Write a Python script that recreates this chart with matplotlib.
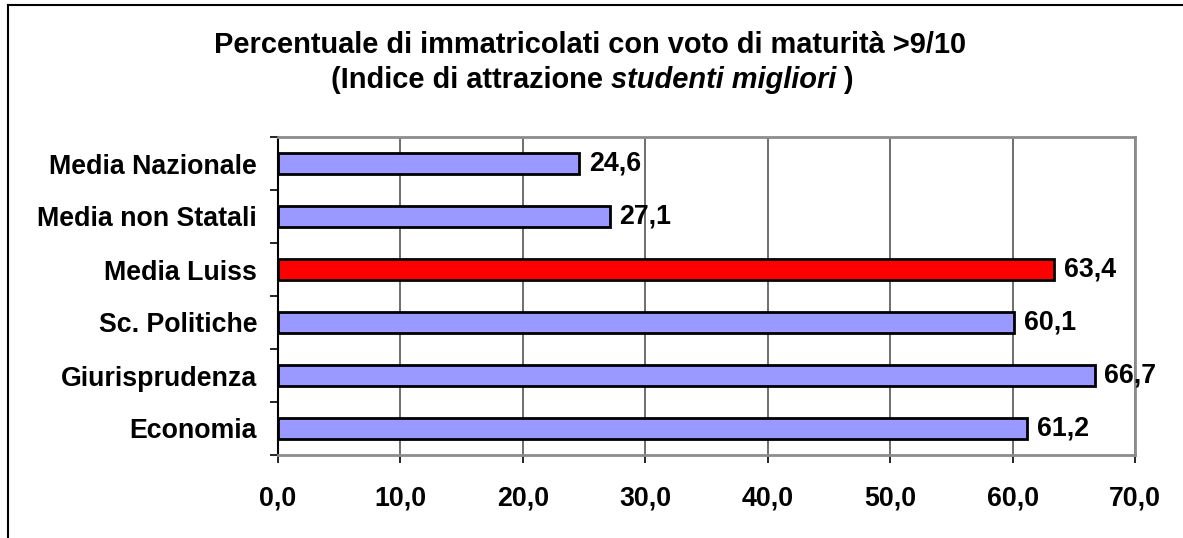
import matplotlib
matplotlib.use("Agg")
import matplotlib.pyplot as plt
from matplotlib.lines import Line2D

plt.rcParams['font.family'] = ['Liberation Sans', 'DejaVu Sans']

categories = ["Media Nazionale", "Media non Statali", "Media Luiss",
              "Sc. Politiche", "Giurisprudenza", "Economia"]
values = [24.6, 27.1, 63.4, 60.1, 66.7, 61.2]
bar_colors = ["#9999ff", "#9999ff", "#ff0000", "#9999ff", "#9999ff", "#9999ff"]
xticks = [0, 10, 20, 30, 40, 50, 60, 70]
xtick_labels = ["0,0", "10,0", "20,0", "30,0", "40,0", "50,0", "60,0", "70,0"]
title_line1 = "Percentuale di immatricolati con voto di maturità >9/10"
title_line2 = ["(Indice di attrazione ", "studenti migliori", " )"]

FS = 19.3
TFS = 20.9

W, H = 1183, 538
fig = plt.figure(figsize=(W / 100, H / 100), dpi=100)
ax = fig.add_axes([278 / W, 1 - 455 / H, (1135 - 278) / W, (455 - 137) / H])

n = len(categories)
ypos = list(range(n))[::-1]
ax.barh(ypos, values, height=0.4, color=bar_colors, edgecolor="black",
        linewidth=2, zorder=3)
for y, v in zip(ypos, values):
    ax.text(v + 0.8, y, f"{v:.1f}".replace(".", ","), va="center", ha="left",
            fontsize=FS, fontweight="bold", zorder=4)

ax.set_xlim(0, 70)
ax.set_ylim(-0.5, n - 0.5)
ax.set_xticks(xticks)
ax.set_xticklabels(xtick_labels, fontsize=FS, fontweight="bold")
ax.set_yticks(ypos)
ax.set_yticklabels(categories, fontsize=FS, fontweight="bold")
ax.tick_params(axis="y", length=0, pad=15)
ax.set_yticks([i - 0.5 for i in range(n + 1)], minor=True)
ax.tick_params(axis="y", which="minor", length=6, width=1.2, direction="out")
ax.tick_params(axis="x", length=6, width=1.2, direction="out", pad=16)

ax.grid(axis="x", color="#555555", linewidth=1.2, zorder=0)
for s in ["top", "right", "bottom"]:
    ax.spines[s].set_color("#8c8c8c")
    ax.spines[s].set_linewidth(2)
ax.spines["left"].set_color("black")
ax.spines["left"].set_linewidth(1.5)

# Title
fig.text(590 / W, 1 - 45 / H, title_line1, ha="center", va="center",
         fontsize=TFS, fontweight="bold")
fig.canvas.draw()
r = fig.canvas.get_renderer()
styles = ["normal", "italic", "normal"]
parts = []
for t, st in zip(title_line2, styles):
    tx = fig.text(0, 1 - 80 / H, t, ha="left", va="center", fontsize=TFS,
                  fontweight="bold", fontstyle=st)
    parts.append(tx)
widths = [p.get_window_extent(r).width for p in parts]
x0 = 592 - sum(widths) / 2
for p, w in zip(parts, widths):
    p.set_x(x0 / W)
    x0 += w

# figure border (top and left)
fig.add_artist(Line2D([8 / W, 1], [1 - 5 / H, 1 - 5 / H], color="black", lw=1.5,
                      transform=fig.transFigure))
fig.add_artist(Line2D([8 / W, 8 / W], [0, 1 - 5 / H], color="black", lw=1.5,
                      transform=fig.transFigure))

fig.savefig("out.png", dpi=100)
